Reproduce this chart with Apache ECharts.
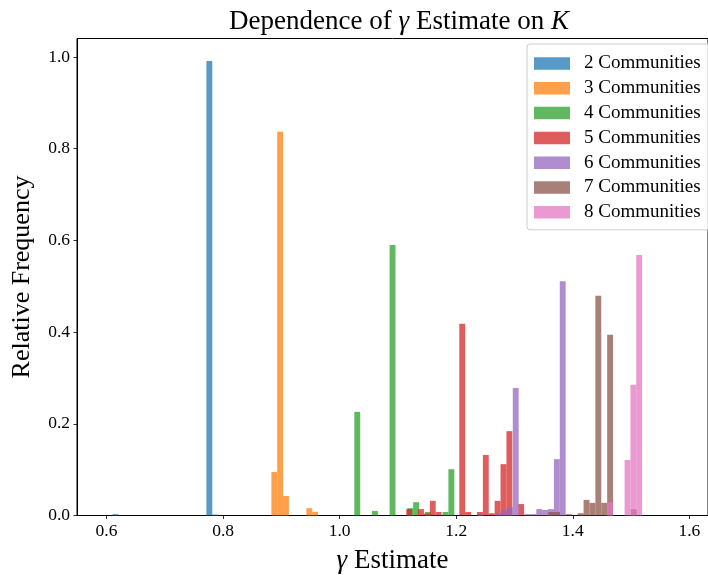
<!DOCTYPE html>
<html>
<head>
<meta charset="utf-8">
<script src="https://cdn.jsdelivr.net/npm/echarts@6/dist/echarts.min.js"></script>
<style>html,body{margin:0;padding:0;background:#fff;}#c{width:708px;height:575px;}</style>
</head>
<body>
<div id="c"></div>
<script>
// ---- data ----
const seriesNames = ['2 Communities','3 Communities','4 Communities','5 Communities','6 Communities','7 Communities','8 Communities'];
// first bin left edge and bin width (gamma units) of each histogram
const binStart = [0.6103, 0.8829, 1.0252, 1.1143, 1.2366, 1.3578, 1.4589];
const binWidth = [0.01007, 0.0100, 0.01009, 0.01011, 0.01008, 0.01012, 0.0100];
// relative frequency per bin
const freq2 = [0.003,0,0,0,0,0,0,0,0,0,0,0,0,0,0,0,0.991,0.002];
const freq3 = [0.095,0.837,0.0425,0,0,0,0.016,0.008];
const freq4 = [0.226,0,0,0.010,0,0,0.590,0,0,0.016,0.029,0,0.0076,0,0,0.0076,0.101];
const freq5 = [0.014,0,0.014,0.004,0.032,0.0076,0,0,0,0.418,0.0076,0,0.0076,0.132,0.005,0.032,0.112,0.184,0,0.025];
const freq6 = [0.003,0,0,0.005,0.012,0.018,0.278,0,0.003,0.003,0.014,0.012,0.014,0.123,0.511];
const freq7 = [0.0076,0.0076,0,0.003,0,0.005,0.034,0.0276,0.479,0.0276,0.394,0,0,0,0.014];
const freq8 = [0.029,0,0,0.121,0.285,0.568];
const allFreq = [freq2,freq3,freq4,freq5,freq6,freq7,freq8];
const xTicks = [0.6,0.8,1.0,1.2,1.4,1.6];
const yTicks = [0.0,0.2,0.4,0.6,0.8,1.0];
const colors = ['rgba(31,119,180,0.75)','rgba(255,127,14,0.75)','rgba(44,160,44,0.75)','rgba(214,39,40,0.75)','rgba(148,103,189,0.75)','rgba(140,86,75,0.75)','rgba(227,119,194,0.75)'];

const FONT = 'Liberation Serif';

function renderer(w, color) {
  return function (params, api) {
    const x0 = api.value(0), h = api.value(1);
    const p0 = api.coord([x0, h]);
    const p1 = api.coord([x0 + w, 0]);
    return {type:'rect', shape:{x:p0[0], y:p0[1], width:p1[0]-p0[0], height:p1[1]-p0[1]}, style:{fill:color}};
  };
}

const series = seriesNames.map((name, k) => ({
  type: 'custom',
  name: name,
  itemStyle: {color: colors[k]},
  renderItem: renderer(binWidth[k], colors[k]),
  data: allFreq[k].map((h, i) => [binStart[k] + i * binWidth[k], h]),
  z: 2 + k
}));

const chart = echarts.init(document.getElementById('c'), null, {renderer:'canvas'});
chart.setOption({
  animation: false,
  backgroundColor: '#fff',
  title: {
    text: 'Dependence of {i|γ} Estimate on {i|K}',
    left: 394, top: 3, textAlign: 'center',
    textStyle: {fontFamily: FONT, fontSize: 27, fontWeight: 'normal', color: '#000',
      rich: {i: {fontFamily: FONT, fontSize: 27, fontStyle: 'italic', color: '#000'}}}
  },
  grid: {left: 77, top: 38.5, right: 0, bottom: 59.5, show: true, borderColor: '#000', borderWidth: 1,
         containLabel: false, outerBoundsMode: 'none'},
  legend: {
    orient: 'vertical', left: 527, top: 44,
    icon: 'rect', itemWidth: 36, itemHeight: 12.5, itemGap: 5.8,
    padding: [10, 30, 8, 7],
    borderColor: '#cccccc', borderWidth: 1, borderRadius: 3, backgroundColor: 'rgba(255,255,255,0.8)',
    textStyle: {fontFamily: FONT, fontSize: 19, color: '#000', padding: [0,0,0,9]},
    data: seriesNames
  },
  xAxis: {
    type: 'value', min: 0.5494, max: 1.632,
    name: '{i|γ} Estimate', nameLocation: 'middle', nameGap: 32,
    nameTextStyle: {fontFamily: FONT, fontSize: 27, color: '#000', rich: {i: {fontFamily: FONT, fontSize: 27, fontStyle: 'italic'}}},
    splitLine: {show: false},
    axisLine: {show: true, onZero: false, lineStyle: {color: '#000', width: 1}},
    axisTick: {show: true, length: 3.5, lineStyle: {color: '#000', width: 0.8}, customValues: xTicks},
    axisLabel: {customValues: xTicks, fontFamily: FONT, fontSize: 17.5, color: '#000', margin: 7, formatter: v => v.toFixed(1)}
  },
  yAxis: {
    type: 'value', min: 0, max: 1.0403,
    name: 'Relative Frequency', nameLocation: 'middle', nameGap: 42,
    nameTextStyle: {fontFamily: FONT, fontSize: 26, color: '#000'},
    splitLine: {show: false},
    axisLine: {show: true, lineStyle: {color: '#000', width: 1}},
    axisTick: {show: true, length: 3.5, lineStyle: {color: '#000', width: 0.8}, customValues: yTicks},
    axisLabel: {customValues: yTicks, fontFamily: FONT, fontSize: 17.5, color: '#000', margin: 7, formatter: v => v.toFixed(1)}
  },
  series: series
});
</script>
</body>
</html>
